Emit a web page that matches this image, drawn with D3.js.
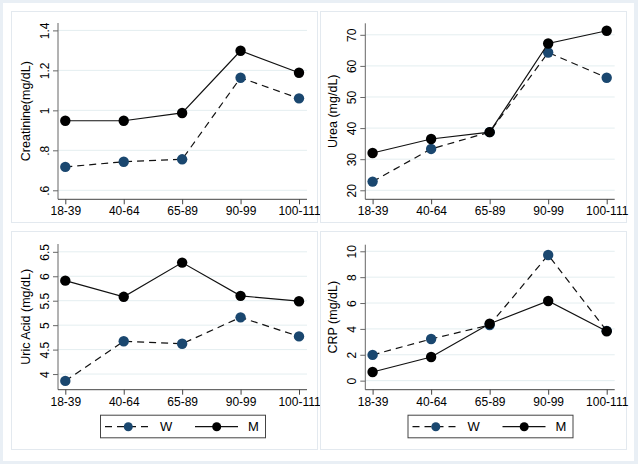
<!DOCTYPE html>
<html><head><meta charset="utf-8">
<script src="https://cdn.jsdelivr.net/npm/d3@7"></script>
<style>body{margin:0;background:#e9eff5;}svg{display:block;}</style>
</head><body>
<svg id="c" width="638" height="464"></svg>
<script>
const categories = ["18-39","40-64","65-89","90-99","100-111"];
const seriesNames = ["W","M"];
const creatinineW = [0.717,0.743,0.755,1.163,1.060];
const creatinineM = [0.948,0.948,0.987,1.298,1.188];
const ureaW = [22.8,33.3,38.7,64.3,56.2];
const ureaM = [32.0,36.5,38.7,67.2,71.3];
const uricW = [3.86,4.67,4.62,5.16,4.77];
const uricM = [5.91,5.58,6.28,5.60,5.49];
const crpW = [1.99,3.22,4.30,9.71,3.85];
const crpM = [0.67,1.83,4.40,6.16,3.82];
const creatinineTicks = [0.6,0.8,1.0,1.2,1.4];
const creatinineTickLabels = [".6",".8","1","1.2","1.4"];
const ureaTicks = [20,30,40,50,60,70];
const ureaTickLabels = ["20","30","40","50","60","70"];
const uricTicks = [4,4.5,5,5.5,6,6.5];
const uricTickLabels = ["4","4.5","5","5.5","6","6.5"];
const crpTicks = [0,2,4,6,8,10];
const crpTickLabels = ["0","2","4","6","8","10"];
const titles = ["Creatinine(mg/dL)","Urea (mg/dL)","Uric Acid (mg/dL)","CRP (mg/dL)"];

const colW = "#1a476f", colM = "#000000";
const svg = d3.select("#c");
const FONT = "'Liberation Sans', Arial, sans-serif";

svg.append("rect").attr("x",3).attr("y",3).attr("width",631).attr("height",458).attr("fill","#fff");

const panels = [
  {title:titles[0], W:creatinineW, M:creatinineM, ticks:creatinineTicks, labels:creatinineTickLabels,
   box:[11,11,306,211], left:58, right:307, top:23, bottom:199.3, dom:[0.555,1.437], legend:false},
  {title:titles[1], W:ureaW, M:ureaM, ticks:ureaTicks, labels:ureaTickLabels,
   box:[320,11,306,211], left:365.3, right:614.7, top:23.3, bottom:199.3, dom:[17.1,73.7], legend:false},
  {title:titles[2], W:uricW, M:uricM, ticks:uricTicks, labels:uricTickLabels,
   box:[11,231,306,218], left:58, right:307, top:244, bottom:389.7, dom:[3.68,6.66], legend:true},
  {title:titles[3], W:crpW, M:crpM, ticks:crpTicks, labels:crpTickLabels,
   box:[320,231,306,218], left:365.3, right:614.7, top:244.7, bottom:389.7, dom:[-0.70,10.51], legend:true}
];

panels.forEach(p => {
  const g = svg.append("g");
  g.append("rect").attr("x",p.box[0]+0.5).attr("y",p.box[1]+0.5).attr("width",p.box[2]).attr("height",p.box[3])
    .attr("fill","#fff").attr("stroke","#e3e9ef").attr("stroke-width",1);
  const x = d3.scalePoint().domain(categories).range([p.left+7.3, p.right-8]);
  const y = d3.scaleLinear().domain(p.dom).range([p.bottom, p.top]);
  // grid
  g.append("g").selectAll("line").data(p.ticks).join("line")
    .attr("x1",p.left).attr("x2",p.right).attr("y1",d=>y(d)).attr("y2",d=>y(d))
    .attr("stroke","#e4eef0").attr("stroke-width",1);
  // y axis
  const ya = g.append("g").attr("transform",`translate(${p.left},0)`)
    .call(d3.axisLeft(y).tickValues(p.ticks).tickFormat((d,i)=>p.labels[i]).tickSize(5).tickSizeOuter(0));
  ya.select(".domain").attr("stroke","#666").attr("d",`M0,${p.top}V${p.bottom}`);
  ya.selectAll(".tick line").attr("stroke","#666");
  ya.selectAll(".tick text").attr("font-family",FONT).attr("font-size",12).attr("fill","#000")
    .attr("transform",function(d){return `translate(-13,0) rotate(-90)`;})
    .attr("x",0).attr("dy","0").attr("text-anchor","middle").attr("dominant-baseline","central");
  // x axis
  const xa = g.append("g").attr("transform",`translate(0,${p.bottom})`)
    .call(d3.axisBottom(x).tickSize(5).tickSizeOuter(0));
  xa.select(".domain").attr("stroke","#444").attr("d",`M${p.left},0H${p.right}`);
  xa.selectAll(".tick line").attr("stroke","#444");
  xa.selectAll(".tick text").attr("font-family",FONT).attr("font-size",12).attr("fill","#000").attr("dy","0.75em").attr("y",7);
  // title
  g.append("text").attr("transform",`translate(${p.left-28},${(p.top+p.bottom)/2}) rotate(-90)`)
    .attr("text-anchor","middle").attr("font-family",FONT).attr("font-size",12.5).attr("fill","#000").text(p.title);
  // series
  const line = d3.line().x((d,i)=>x(categories[i])).y(d=>y(d));
  [["W",p.W,colW,"7,5"],["M",p.M,colM,null]].forEach(([nm,vals,col,dash])=>{
    g.append("path").datum(vals).attr("d",line).attr("fill","none").attr("stroke","#111")
      .attr("stroke-width",1.2).attr("stroke-dasharray",dash);
    g.append("g").selectAll("circle").data(vals).join("circle")
      .attr("cx",(d,i)=>x(categories[i])).attr("cy",d=>y(d)).attr("r",5.2).attr("fill",col);
  });
  if (p.legend) {
    const cx = (p.left+p.right)/2;
    const lx = cx-82.5, ly = 414.7;
    const lg = g.append("g").attr("transform",`translate(${lx},${ly})`);
    lg.append("rect").attr("x",0.5).attr("y",0.5).attr("width",165).attr("height",22.6).attr("fill","#fff").attr("stroke","#444");
    const cyL = 12;
    [[seriesNames[0],colW,"7,5",5,50,28.3,60],[seriesNames[1],colM,null,95,138,116.7,148]].forEach(([nm,col,dash,a,b,m,tx])=>{
      lg.append("line").attr("x1",a).attr("x2",b).attr("y1",cyL).attr("y2",cyL).attr("stroke","#111").attr("stroke-width",1.2).attr("stroke-dasharray",dash);
      lg.append("circle").attr("cx",m).attr("cy",cyL).attr("r",4.5).attr("fill",col);
      lg.append("text").attr("x",tx).attr("y",cyL).attr("dominant-baseline","central").attr("font-family",FONT).attr("font-size",13).text(nm);
    });
  }
});
</script>
</body></html>
